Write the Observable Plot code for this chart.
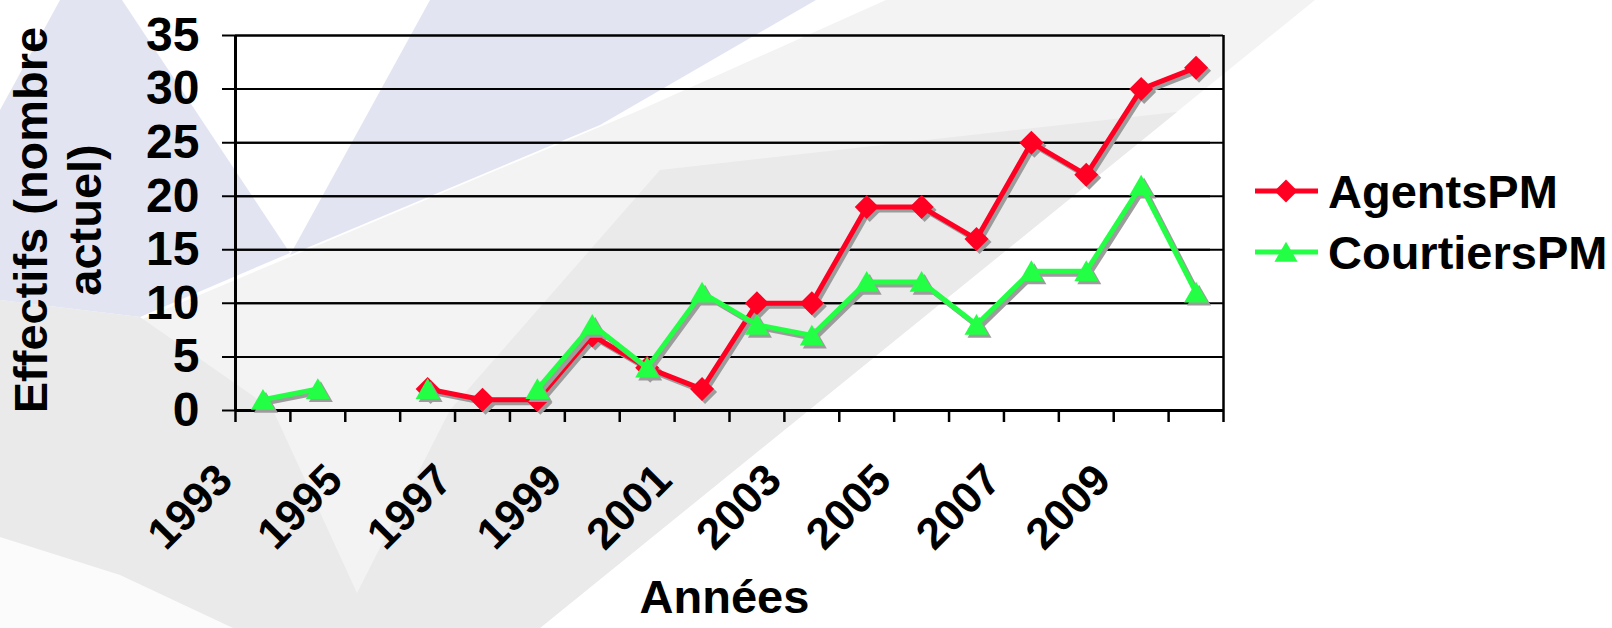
<!DOCTYPE html>
<html>
<head>
<meta charset="utf-8">
<script src="https://cdn.jsdelivr.net/npm/d3@7"></script>
<script src="https://cdn.jsdelivr.net/npm/@observablehq/plot@0.6"></script>
<style>
  html, body { margin: 0; padding: 0; background: #fff; }
  #wrap { position: relative; width: 1612px; height: 628px; overflow: hidden; font-family: "Liberation Sans", Arial, sans-serif; }
  #bg, #chart, #legend { position: absolute; left: 0; top: 0; }
  #chart g[aria-label^="x-axis"] line, #chart g[aria-label^="x-axis"] path { stroke: #000; stroke-width: 2.5px; }
</style>
</head>
<body>
<div id="wrap">
  <svg id="bg" width="1612" height="628">
    <rect width="1612" height="628" fill="#ffffff"></rect>
    <polygon fill="#f3f3f3" points="0,340 140,320 640,110 886,0 1315,0 540,628 0,628"></polygon>
    <polygon fill="#eaeaea" points="0,300 140,317 273,410 357,593 450,410 660,170 1177,112 540,628 0,628"></polygon>
    <polygon fill="#fbfbfb" points="0,537 120,575 233,628 0,628"></polygon>
    <polygon fill="#e2e5f1" points="60,0 122,0 290,253 140,317 0,300 0,110"></polygon>
    <polygon fill="#e2e5f1" points="430,0 816,0 600,125 290,255"></polygon>
  </svg>
  <div id="chart"></div>
  <svg id="legend" width="1612" height="628"></svg>
</div>
<script>
// ---- data ----
const years = [1993, 1994, 1995, 1996, 1997, 1998, 1999, 2000, 2001, 2002, 2003, 2004, 2005, 2006, 2007, 2008, 2009, 2010];
const agentsPM = [null, null, null, 2, 1, 1, 7, 4, 2, 10, 10, 19, 19, 16, 25, 22, 30, 32];
const courtiersPM = [1, 2, null, 2, null, 2, 8, 4, 11, 8, 7, 12, 12, 8, 13, 13, 21, 11];
const yTicks = [0, 5, 10, 15, 20, 25, 30, 35];
const xTickLabels = [1993, 1995, 1997, 1999, 2001, 2003, 2005, 2007, 2009];
const seriesNames = ["AgentsPM", "CourtiersPM"];
const seriesColors = ["#ff0022", "#22ff44"];
const yTitleLines = ["Effectifs (nombre", "actuel)"];
const xTitle = "Années";

// ---- derived tables ----
const rowsA = years.map((year, i) => ({year, value: agentsPM[i]}));
const rowsC = years.map((year, i) => ({year, value: courtiersPM[i]}));
const xDomain = [years[0] - 0.5, years[years.length - 1] + 0.5];
const edges = years.map(y => y - 0.5).concat([xDomain[1]]);
const shadow = "#9c9c9c";

const chart = Plot.plot({
  width: 1612,
  height: 628,
  marginLeft: 235,
  marginRight: 389,
  marginTop: 35,
  marginBottom: 218,
  style: {background: "transparent", fontFamily: "'Liberation Sans', Arial, sans-serif", color: "#000"},
  x: {domain: xDomain, ticks: edges, tickSize: 12, tickFormat: () => "", label: null},
  y: {domain: [0, 35], axis: null},
  marks: [
    Plot.ruleY(yTicks, {stroke: "#000", strokeWidth: 2}),
    Plot.ruleY(yTicks, {stroke: "#000", strokeWidth: 2, dx: -13}),
    Plot.ruleX([xDomain[0]], {stroke: "#000", strokeWidth: 3}),
    Plot.ruleX([xDomain[1]], {stroke: "#000", strokeWidth: 2.5}),
    Plot.ruleY([0], {stroke: "#000", strokeWidth: 3}),
    // AgentsPM
    Plot.line(rowsA, {x: "year", y: "value", stroke: shadow, strokeWidth: 5, dx: 3, dy: 3, strokeLinejoin: "round"}),
    Plot.dot(rowsA, {x: "year", y: "value", symbol: "diamond2", r: 10.8, fill: shadow, dx: 3, dy: 3}),
    Plot.line(rowsA, {x: "year", y: "value", stroke: seriesColors[0], strokeWidth: 5, strokeLinejoin: "round"}),
    Plot.dot(rowsA, {x: "year", y: "value", symbol: "diamond2", r: 10.8, fill: seriesColors[0]}),
    // CourtiersPM
    Plot.line(rowsC, {x: "year", y: "value", stroke: shadow, strokeWidth: 5, dx: 3, dy: 3, strokeLinejoin: "round"}),
    Plot.dot(rowsC, {x: "year", y: "value", symbol: "triangle", r: 8.9, fill: shadow, dx: 3, dy: 6}),
    Plot.line(rowsC, {x: "year", y: "value", stroke: seriesColors[1], strokeWidth: 5, strokeLinejoin: "round"}),
    Plot.dot(rowsC, {x: "year", y: "value", symbol: "triangle", r: 8.9, fill: seriesColors[1], dy: 3}),
    // tick labels
    Plot.text(yTicks, {y: d => d, text: d => String(d), frameAnchor: "left", textAnchor: "end", lineAnchor: "middle", dx: -36, fontSize: 48, fontWeight: "bold"}),
    Plot.text(xTickLabels, {x: d => d, text: d => String(d), frameAnchor: "bottom", rotate: -45, textAnchor: "end", lineAnchor: "middle", dx: -38, dy: 62, fontSize: 44, fontWeight: "bold"}),
    // axis titles
    Plot.text([yTitleLines.join("\n")], {text: d => d, frameAnchor: "left", rotate: -90, textAnchor: "middle", lineAnchor: "middle", lineHeight: 1.15, dx: -179, dy: -3, fontSize: 47, fontWeight: "bold"}),
    Plot.text([xTitle], {text: d => d, frameAnchor: "bottom", textAnchor: "middle", lineAnchor: "middle", dx: -5, dy: 187, fontSize: 47, fontWeight: "bold"})
  ]
});
document.getElementById("chart").appendChild(chart);

// ---- legend ----
const leg = d3.select("#legend");
const legendItems = [
  {name: seriesNames[0], color: seriesColors[0], symbol: d3.symbolDiamond2, size: 337, cy: 191, shift: 0},
  {name: seriesNames[1], color: seriesColors[1], symbol: d3.symbolTriangle, size: 232, cy: 252, shift: 3}
];
for (const it of legendItems) {
  const g = leg.append("g").attr("transform", `translate(0,${it.cy})`);
  g.append("line").attr("x1", 1255).attr("x2", 1318).attr("y1", 0).attr("y2", 0)
    .attr("stroke", it.color).attr("stroke-width", 5);
  g.append("path").attr("d", d3.symbol(it.symbol, it.size)())
    .attr("transform", `translate(1286,${it.shift})`).attr("fill", it.color);
  g.append("text").attr("x", 1328).attr("y", 17).attr("font-size", 47).attr("font-weight", "bold")
    .attr("font-family", "'Liberation Sans', Arial, sans-serif").attr("fill", "#000").text(it.name);
}
</script>
</body>
</html>
